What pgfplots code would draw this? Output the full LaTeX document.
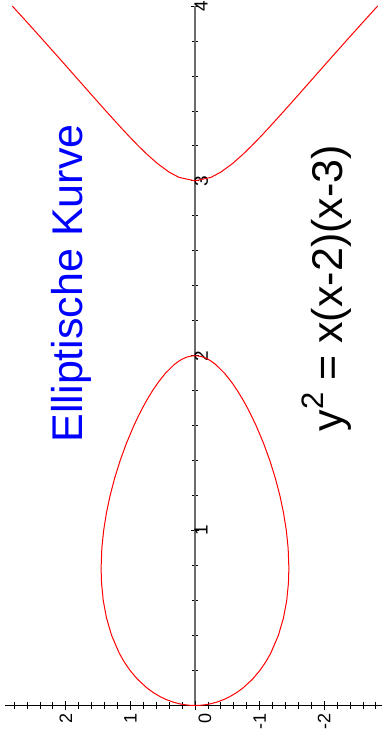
\documentclass[border=0pt]{standalone}
\usepackage{fontspec}
\setmainfont{Liberation Sans}
\usepackage{pgfplots}
\pgfplotsset{compat=1.18}

\begin{document}
\begin{tikzpicture}
\begin{axis}[
    name=ax,
    scale only axis,
    width=377pt, height=699.5pt,
    xmin=-2.895, xmax=2.941,
    ymin=0, ymax=4,
    x dir=reverse,
    axis lines=middle,
    axis line style={-},
    x axis line style={black, line width=0.8pt},
    y axis line style={gray!85!black, line width=1.3pt},
    clip=false,
    hide obscured x ticks=false,
    hide obscured y ticks=false,
    tick align=center,
    major tick length=8pt,
    minor tick length=6pt,
    tick style={black, line width=0.8pt},
    xtick={-2,-1,1,2}, xticklabels={-2,-1,1,2},
    extra x ticks={0}, extra x tick labels={0},
    extra x tick style={xticklabel style={anchor=north east}},
    minor xtick={-2.8,-2.6,...,2.8},
    ytick={1,2,3,4}, yticklabels={1,2,3,4},
    minor ytick={0.2,0.4,...,3.8},
    xticklabel style={rotate=90, anchor=east, font=\fontsize{18}{20}\selectfont},
    yticklabel style={rotate=90, anchor=north, font=\fontsize{19}{20}\selectfont},
]
% egg, 0 <= x <= 2  (coordinates are (y, x))
\addplot[red, line width=1pt, line join=round] coordinates {
    (0,0) (0.0774,0.001) (0.1728,0.005) (0.2439,0.01) (0.3435,0.02) (0.4516,0.035)
    (0.5363,0.05) (0.6498,0.075) (0.7423,0.1) (0.8893,0.15) (1.0040,0.2) (1.0969,0.25)
    (1.1735,0.3) (1.2900,0.4) (1.3693,0.5) (1.4199,0.6) (1.4467,0.7) (1.4535,0.785)
    (1.4419,0.9) (1.4142,1.0) (1.3715,1.1) (1.3145,1.2) (1.2438,1.3) (1.1593,1.4)
    (1.0607,1.5) (0.9466,1.6) (0.8830,1.65) (0.8142,1.7) (0.7395,1.75) (0.6573,1.8)
    (0.5649,1.85) (0.4572,1.9) (0.3200,1.95) (0.2467,1.97) (0.2010,1.98) (0.1418,1.99)
    (0.1001,1.995) (0.0447,1.999) (0,2)
    (-0.0447,1.999) (-0.1001,1.995) (-0.1418,1.99) (-0.2010,1.98) (-0.2467,1.97)
    (-0.3200,1.95) (-0.4572,1.9) (-0.5649,1.85) (-0.6573,1.8) (-0.7395,1.75)
    (-0.8142,1.7) (-0.8830,1.65) (-0.9466,1.6) (-1.0607,1.5) (-1.1593,1.4)
    (-1.2438,1.3) (-1.3145,1.2) (-1.3715,1.1) (-1.4142,1.0) (-1.4419,0.9)
    (-1.4535,0.785) (-1.4467,0.7) (-1.4199,0.6) (-1.3693,0.5) (-1.2900,0.4)
    (-1.1735,0.3) (-1.0969,0.25) (-1.0040,0.2) (-0.8893,0.15) (-0.7423,0.1)
    (-0.6498,0.075) (-0.5363,0.05) (-0.4516,0.035) (-0.3435,0.02) (-0.2439,0.01)
    (-0.1728,0.005) (-0.0774,0.001) (0,0)
};
% branch, 3 <= x <= 4
\addplot[red, line width=1pt, line join=round] coordinates {
    (2.8284,4.0) (2.5824,3.9) (2.3392,3.8) (2.0983,3.7) (1.8590,3.6) (1.6202,3.5)
    (1.3799,3.4) (1.1345,3.3) (1.0078,3.25) (0.8764,3.2) (0.7371,3.15) (0.5840,3.1)
    (0.4002,3.05) (0.2482,3.02) (0,3)
    (-0.2482,3.02) (-0.4002,3.05) (-0.5840,3.1) (-0.7371,3.15) (-0.8764,3.2)
    (-1.0078,3.25) (-1.1345,3.3) (-1.3799,3.4) (-1.6202,3.5) (-1.8590,3.6)
    (-2.0983,3.7) (-2.3392,3.8) (-2.5824,3.9) (-2.8284,4.0)
};
\node[blue, rotate=90, anchor=base, font=\fontsize{43}{50}\selectfont]
    at (axis cs:1.734,2.414) {Elliptische Kurve};
\node[black, rotate=90, anchor=base, font=\fontsize{43}{50}\selectfont]
    at (axis cs:-2.291,2.386) {y\raisebox{19pt}{\fontsize{31}{31}\selectfont 2} = x(x-2)(x-3)};
\end{axis}
\pgfresetboundingbox
\path ([xshift=-5pt,yshift=-34.5pt]ax.south west) rectangle ([yshift=6pt]ax.north east);
\end{tikzpicture}
\end{document}
